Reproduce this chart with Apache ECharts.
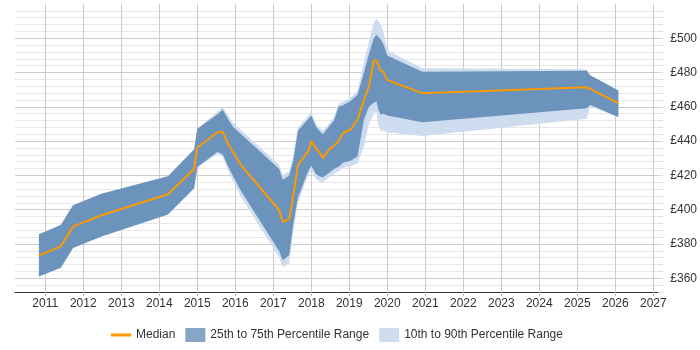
<!DOCTYPE html>
<html>
<head>
<meta charset="utf-8">
<script src="https://cdn.jsdelivr.net/npm/echarts@6/dist/echarts.min.js"></script>
<style>
html,body{margin:0;padding:0;background:#fff;}
#chart{width:700px;height:350px;}
</style>
</head>
<body>
<div id="chart"></div>
<script>
// ---- data ----
const dates = ['2010-11-01','2011-05-30','2011-09-25','2012-06-24','2014-03-25','2014-12-02','2015-01-01',
  '2015-07-12','2015-09-02','2015-10-19','2015-12-05','2016-02-24','2017-02-27','2017-04-01','2017-06-02',
  '2017-07-09','2017-08-25','2017-12-05','2018-01-01','2018-02-13','2018-03-18','2018-04-23','2018-06-21',
  '2018-08-07','2018-09-20','2018-11-03','2019-01-15','2019-03-21','2019-05-22','2019-07-09','2019-08-25',
  '2019-09-20','2019-10-08','2019-10-30','2019-11-25','2020-01-01','2020-12-01','2025-04-01','2025-05-04','2026-01-30'];
const p10 = [361,366.1,377.6,384.4,397.2,412.5,424.7,
  432.5,431,423.5,417.5,407.5,372,366.5,368.5,
  386,404,420.5,423,418,416.5,416,419,
  421,422.5,424.5,425.5,427,437,450,456,
  457.5,449,446,446,445,443,453,460.5,454];
const p25 = [361,366.1,377.6,384.4,397.2,412.5,424.7,
  433.7,432.4,426,420.3,411,375.7,370.5,373.5,
  391,407,423,425.6,421,419.5,419,421.5,
  423.7,425,427.6,428.5,431,452.6,460,462.5,
  463,458.3,455.5,456,455,451,459.2,461.1,454.1];
const p50 = [373.2,378.6,390.1,396.8,409,423.8,436.3,
  445,445.5,439.1,434.3,426.1,399.7,393,394.5,
  407,426,434.3,440.1,435.7,433.7,430.1,435.3,
  437.2,440.1,444.9,446.8,452.6,464,471.8,487.1,
  487.1,487.1,481,480.4,475.6,468,471.4,470.5,462.2];
const p75 = [385.7,391.1,402.6,409.3,419.5,435.3,447.2,
  455.5,458.3,453.5,448.7,444.2,423.7,417.5,420,
  428,446,453,455,448.5,446,444,448.5,
  452,460,461,463.5,467,480,491,500,
  502,502,499.5,496.5,490,480.5,481,478.5,469.5];
const p90 = [385.7,391.1,402.6,409.3,419.5,435.3,447.2,
  457,460,455.5,451,446.5,426,420,422.5,
  430.5,448,455,457,450.5,448,446,450.5,
  454,462,463,465.5,469.5,486,498,509,
  511.5,512,508,504,493,482.5,482,478.5,469.5];

const seriesNames = ['Median','25th to 75th Percentile Range','10th to 90th Percentile Range'];
const yTickMin = 352, yTickMax = 520, yTickStep = 4;
const xMin = '2010-03-16', xMax = '2027-02-18';

const FONT = 'Arial, "Liberation Sans", sans-serif';
const DARK = '#6b93bc', LIGHT = '#cddcee', ORANGE = '#ff9900';

const pair = (arr) => dates.map((d, i) => [d, arr[i]]);
const diff = (hi, lo) => dates.map((d, i) => [d, +(hi[i] - lo[i]).toFixed(2)]);

const chart = echarts.init(document.getElementById('chart'), null, {renderer: 'canvas'});
const YEAR = 365.25 * 24 * 3600 * 1000;
chart.setOption({
  animation: false,
  textStyle: {fontFamily: FONT},
  grid: {left: 15, right: 40, top: 4, bottom: 58, containLabel: false},
  legend: {
    left: 106, top: 323,
    itemWidth: 20, itemHeight: 14, itemGap: 10,
    textStyle: {fontSize: 12, color: '#333', fontFamily: FONT},
    data: [
      {name: seriesNames[0], icon: 'path://M0,0 L0.01,0 M0,5.5 L20,5.5 L20,8.5 L0,8.5 Z M20,14 L19.99,14',
       itemStyle: {color: ORANGE}},
      {name: seriesNames[1], icon: 'rect', itemStyle: {color: '#87a5c6'}},
      {name: seriesNames[2], icon: 'rect', itemStyle: {color: '#cfdeee'}}
    ]
  },
  xAxis: {
    type: 'time',
    min: xMin, max: xMax,
    splitNumber: 17,
    minInterval: YEAR * 0.99, maxInterval: YEAR * 1.01,
    axisLine: {show: true, lineStyle: {color: '#333', width: 1}},
    axisTick: {show: true, length: 4, lineStyle: {color: '#bbb'}},
    axisLabel: {formatter: '{yyyy}', fontSize: 12, color: '#333', margin: 6, fontFamily: FONT, hideOverlap: false,
      showMinLabel: false, showMaxLabel: false},
    splitLine: {show: true, showMinLine: false, showMaxLine: false, lineStyle: {color: '#cccccc', width: 1}}
  },
  yAxis: {
    type: 'value',
    position: 'right',
    min: yTickMin, max: yTickMax, interval: yTickStep,
    axisLine: {show: false},
    axisTick: {show: true, length: 5, lineStyle: {color: '#dddddd'}},
    axisLabel: {
      margin: 12, fontSize: 12, color: '#333', fontFamily: FONT, showMaxLabel: false,
      formatter: (v) => (v % 20 === 0 && v < yTickMax ? '£' + v : '')
    },
    splitLine: {
      show: true, showMaxLine: false,
      lineStyle: {color: ['#e8e8e8', '#e8e8e8', '#cccccc', '#e8e8e8', '#e8e8e8'], width: 1}
    }
  },
  series: [
    {name: 'p10base', type: 'line', stack: 'outer', data: pair(p10), symbol: 'none',
     lineStyle: {width: 0, opacity: 0}, silent: true},
    {name: seriesNames[2], type: 'line', stack: 'outer', data: diff(p90, p10), symbol: 'none',
     lineStyle: {width: 0, opacity: 0}, itemStyle: {color: LIGHT},
     areaStyle: {color: LIGHT, opacity: 1}, silent: true},
    {name: 'p25base', type: 'line', stack: 'inner', data: pair(p25), symbol: 'none',
     lineStyle: {width: 0, opacity: 0}, silent: true},
    {name: seriesNames[1], type: 'line', stack: 'inner', data: diff(p75, p25), symbol: 'none',
     lineStyle: {width: 0, opacity: 0}, itemStyle: {color: DARK},
     areaStyle: {color: DARK, opacity: 1}, silent: true},
    {name: seriesNames[0], type: 'line', data: pair(p50), symbol: 'none',
     lineStyle: {width: 2, color: ORANGE}, itemStyle: {color: ORANGE}, z: 5}
  ]
});
</script>
</body>
</html>
